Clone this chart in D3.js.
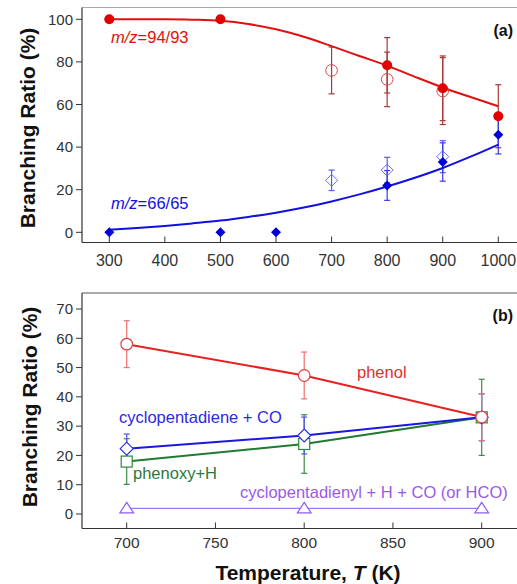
<!DOCTYPE html>
<html>
<head>
<meta charset="utf-8">
<script src="https://cdn.jsdelivr.net/npm/d3@7"></script>
<style>
  body { margin: 0; background: #fff; }
  text { font-family: Arial, "Liberation Sans", sans-serif; }
</style>
</head>
<body>
<div class="canvas"></div>
<script>
// ---- panel (a) data ----
const aTicksX = [300, 400, 500, 600, 700, 800, 900, 1000];
const aTicksY = [0, 20, 40, 60, 80, 100];

// m/z=94/93, filled circles: [T, value, err]
const redFilled = [[300, 100, 0], [500, 100, 0], [800, 78.4, 13], [900, 67.6, 15.2], [1000, 54.5, 14.8]];
// open circles
const redOpen = [[700, 76, 11], [800, 71.8, 12.8], [900, 66.3, 15.7]];
// fitted curve
const redFitT = [300, 350, 400, 450, 500, 550, 600, 650, 700, 750, 800, 850, 900, 950, 1000];
const redFitV = [100, 100, 100, 99.8, 99.3, 97.8, 95.3, 91.8, 87.4, 82.8, 78.2, 73, 68, 63.5, 59.2];

// m/z=66/65, filled diamonds
const blueFilled = [[300, 0, 0], [500, 0, 0], [600, 0, 0], [800, 22, 7], [900, 33, 9], [1000, 45.8, 9]];
const blueOpen = [[700, 24.4, 4.8], [800, 29.2, 6], [900, 35.5, 7.5]];
const blueFitT = [300, 350, 400, 450, 500, 550, 600, 650, 700, 750, 800, 850, 900, 950, 1000];
const blueFitV = [1.2, 2, 3, 4.2, 5.5, 7.2, 9.2, 11.6, 14.5, 17.8, 21.5, 25.6, 30.2, 35.5, 41.2];

// ---- panel (b) data ----
const bTicksX = [700, 750, 800, 850, 900];
const bTicksY = [0, 10, 20, 30, 40, 50, 60, 70];
const bTemps = [700, 800, 900];
const phenol = [58, 47.3, 33.1];
const phenolErr = [8, 8, 8];
const cpd = [22.3, 26.8, 33];
const cpdErr = [5, 6.3, 8];
const phenoxy = [17.9, 23.9, 33];
const phenoxyErr = [7.8, 10, 13];
const cpdyl = [1.9, 1.9, 1.9];

const svg = d3.select(".canvas").append("svg")
  .attr("width", 517).attr("height", 584);

const tickColor = "#333";

function drawFrame(top, bottom, left, topColor) {
  svg.append("line").attr("x1", left).attr("x2", 517).attr("y1", top).attr("y2", top)
    .attr("stroke", topColor).attr("stroke-width", 1);
  svg.append("line").attr("x1", left).attr("x2", 517).attr("y1", bottom).attr("y2", bottom)
    .attr("stroke", "#333").attr("stroke-width", 1.2);
  svg.append("line").attr("x1", left).attr("x2", left).attr("y1", top).attr("y2", bottom)
    .attr("stroke", "#333").attr("stroke-width", 1.2);
}

function drawAxes(x, y, ticksX, ticksY, left, bottom, xFont, labelY) {
  const gy = svg.append("g");
  ticksY.forEach(v => {
    gy.append("line").attr("x1", left - 6).attr("x2", left).attr("y1", y(v)).attr("y2", y(v))
      .attr("stroke", tickColor);
    gy.append("text").attr("x", left - 9).attr("y", y(v)).attr("dy", "0.35em")
      .attr("text-anchor", "end").attr("font-size", 15).attr("fill", "#333").text(v);
  });
  const gx = svg.append("g");
  ticksX.forEach(v => {
    gx.append("line").attr("x1", x(v)).attr("x2", x(v)).attr("y1", bottom - 6).attr("y2", bottom)
      .attr("stroke", tickColor);
    gx.append("text").attr("x", x(v)).attr("y", labelY).attr("dy", "0.35em")
      .attr("text-anchor", "middle").attr("font-size", xFont).attr("fill", "#333").text(v);
  });
}

function errorBars(g, pts, x, y, color) {
  pts.forEach(([t, v, e]) => {
    if (!e) return;
    const cx = x(t);
    g.append("line").attr("x1", cx).attr("x2", cx).attr("y1", y(v + e)).attr("y2", y(v - e))
      .attr("stroke", color).attr("stroke-width", 1.2);
    [v + e, v - e].forEach(w => g.append("line")
      .attr("x1", cx - 3).attr("x2", cx + 3).attr("y1", y(w)).attr("y2", y(w))
      .attr("stroke", color).attr("stroke-width", 1.2));
  });
}

function yTitle(cx, cy) {
  svg.append("text").attr("transform", `translate(${cx},${cy}) rotate(-90)`)
    .attr("text-anchor", "middle").attr("dy", "0.35em")
    .attr("font-size", 21).attr("font-weight", "bold").attr("fill", "#111")
    .text("Branching Ratio (%)");
}

// ================= panel (a) =================
const xa = d3.scaleLinear().domain([300, 1000]).range([109.3, 498.3]);
const ya = d3.scaleLinear().domain([0, 100]).range([232.3, 19.3]);

drawFrame(7.5, 242.5, 82, "#aaa");
drawAxes(xa, ya, aTicksX, aTicksY, 82, 242.5, 16, 260);
yTitle(28, 128);

const ga = svg.append("g");

errorBars(ga, redOpen, xa, ya, "#a83838");
errorBars(ga, redFilled, xa, ya, "#a83838");
errorBars(ga, blueOpen, xa, ya, "#5a5aee");
errorBars(ga, blueFilled, xa, ya, "#3a3ae8");

const fitLine = d3.line().x(d => xa(d[0])).y(d => ya(d[1])).curve(d3.curveMonotoneX);

ga.append("path").datum(d3.zip(redFitT, redFitV)).attr("d", fitLine)
  .attr("fill", "none").attr("stroke", "#e01010").attr("stroke-width", 2);
ga.append("path").datum(d3.zip(blueFitT, blueFitV)).attr("d", fitLine)
  .attr("fill", "none").attr("stroke", "#1010e0").attr("stroke-width", 2);

ga.selectAll(".ropen").data(redOpen).join("circle")
  .attr("cx", d => xa(d[0])).attr("cy", d => ya(d[1])).attr("r", 5.8)
  .attr("fill", "none").attr("stroke", "#d84848").attr("stroke-width", 1);
ga.selectAll(".rfill").data(redFilled).join("circle")
  .attr("cx", d => xa(d[0])).attr("cy", d => ya(d[1])).attr("r", 5)
  .attr("fill", "#e00000");

const diamond = r => `M0,${-r}L${r},0L0,${r}L${-r},0Z`;
ga.selectAll(".bopen").data(blueOpen).join("path")
  .attr("transform", d => `translate(${xa(d[0])},${ya(d[1])})`).attr("d", diamond(6))
  .attr("fill", "none").attr("stroke", "#6a6af8").attr("stroke-width", 1);
ga.selectAll(".bfill").data(blueFilled).join("path")
  .attr("transform", d => `translate(${xa(d[0])},${ya(d[1])})`).attr("d", diamond(5))
  .attr("fill", "#0000d8");

const mz1 = svg.append("text").attr("x", 111).attr("y", 43).attr("font-size", 16.5).attr("fill", "#e01010");
mz1.append("tspan").attr("font-style", "italic").text("m/z");
mz1.append("tspan").text("=94/93");
const mz2 = svg.append("text").attr("x", 111).attr("y", 209).attr("font-size", 16.5).attr("fill", "#1010e0");
mz2.append("tspan").attr("font-style", "italic").text("m/z");
mz2.append("tspan").text("=66/65");

svg.append("text").attr("x", 513).attr("y", 35.5).attr("text-anchor", "end")
  .attr("font-size", 16).attr("font-weight", "bold").attr("fill", "#111").text("(a)");

// ================= panel (b) =================
const xb = d3.scaleLinear().domain([700, 900]).range([126.7, 481.7]);
const yb = d3.scaleLinear().domain([0, 70]).range([514, 309]);

drawFrame(293, 528.5, 82, "#555");
drawAxes(xb, yb, bTicksX, bTicksY, 82, 528.5, 15.5, 543);
yTitle(30, 407);

const gb = svg.append("g");
const bLine = d3.line().x(d => xb(d[0])).y(d => yb(d[1]));

const series = [
  { v: phenoxy, e: phenoxyErr, line: "#207a30", err: "#3a8a4a", mark: "#2a8a3a" },
  { v: cpd, e: cpdErr, line: "#1818e0", err: "#5555ee", mark: "#3030e0" },
  { v: phenol, e: phenolErr, line: "#e82020", err: "#f07070", mark: "#e04040" }
];

series.forEach(s => errorBars(gb, bTemps.map((t, i) => [t, s.v[i], s.e[i]]), xb, yb, s.err));

gb.append("path").datum(d3.zip(bTemps, cpdyl)).attr("d", bLine)
  .attr("fill", "none").attr("stroke", "#9c7cf0").attr("stroke-width", 1.3);
series.forEach(s => gb.append("path").datum(d3.zip(bTemps, s.v)).attr("d", bLine)
  .attr("fill", "none").attr("stroke", s.line).attr("stroke-width", 2));

// phenoxy squares
gb.selectAll(".sq").data(d3.zip(bTemps, phenoxy)).join("rect")
  .attr("x", d => xb(d[0]) - 5.5).attr("y", d => yb(d[1]) - 5.5)
  .attr("width", 11).attr("height", 11)
  .attr("fill", "#fff").attr("stroke", "#2a8a3a").attr("stroke-width", 1.2);
// cyclopentadiene diamonds
gb.selectAll(".dm").data(d3.zip(bTemps, cpd)).join("path")
  .attr("transform", d => `translate(${xb(d[0])},${yb(d[1])})`).attr("d", diamond(6.5))
  .attr("fill", "#fff").attr("stroke", "#3030e0").attr("stroke-width", 1.2);
// phenol circles
gb.selectAll(".ci").data(d3.zip(bTemps, phenol)).join("circle")
  .attr("cx", d => xb(d[0])).attr("cy", d => yb(d[1])).attr("r", 5.8)
  .attr("fill", "#fff").attr("stroke", "#e04040").attr("stroke-width", 1.2);
// cyclopentadienyl triangles
const tri = r => `M0,${-r}L${r * 1.15},${r * 0.75}L${-r * 1.15},${r * 0.75}Z`;
gb.selectAll(".tr").data(d3.zip(bTemps, cpdyl)).join("path")
  .attr("transform", d => `translate(${xb(d[0])},${yb(d[1])})`).attr("d", tri(6))
  .attr("fill", "#fff").attr("stroke", "#8a5ef0").attr("stroke-width", 1.2);

svg.append("text").attr("x", 357).attr("y", 377.5).attr("font-size", 16.5).attr("fill", "#e03030").text("phenol");
svg.append("text").attr("x", 119).attr("y", 422.5).attr("font-size", 16.5).attr("fill", "#2a2ae0").text("cyclopentadiene + CO");
svg.append("text").attr("x", 133).attr("y", 479).attr("font-size", 16.5).attr("fill", "#2a7a3a").text("phenoxy+H");
svg.append("text").attr("x", 240).attr("y", 497.5).attr("font-size", 16.5).attr("fill", "#9a5ae8")
  .text("cyclopentadienyl + H + CO (or HCO)");

svg.append("text").attr("x", 513).attr("y", 321).attr("text-anchor", "end")
  .attr("font-size", 16).attr("font-weight", "bold").attr("fill", "#111").text("(b)");

// x title
const xt = svg.append("text").attr("x", 308).attr("y", 580).attr("text-anchor", "middle")
  .attr("font-size", 21).attr("font-weight", "bold").attr("fill", "#111");
xt.append("tspan").text("Temperature, ");
xt.append("tspan").attr("font-style", "italic").text("T");
xt.append("tspan").text(" (K)");
</script>
</body>
</html>
